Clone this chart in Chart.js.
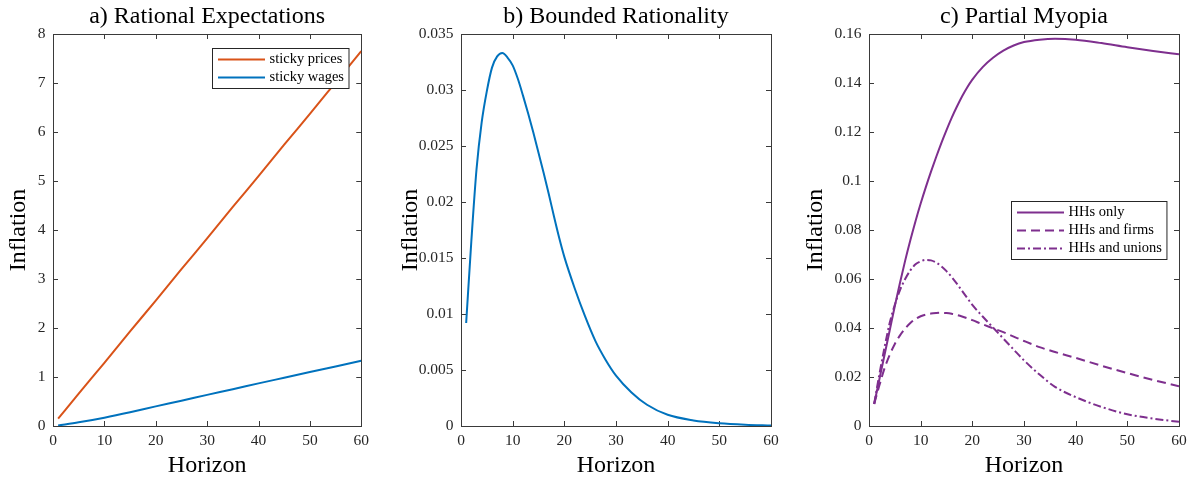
<!DOCTYPE html>
<html>
<head>
<meta charset="utf-8">
<script src="https://cdn.jsdelivr.net/npm/chart.js@4.4.1/dist/chart.umd.min.js"></script>
<style>
  html, body { margin: 0; padding: 0; background: #fff; }
  #wrap { position: relative; width: 1196px; height: 481px; overflow: hidden; }
  #wrap canvas { position: absolute; top: 0; }
</style>
</head>
<body>
<div id="wrap">
  <canvas id="chartA" width="375" height="481" style="left:0px"></canvas>
  <canvas id="chartB" width="395" height="481" style="left:392px"></canvas>
  <canvas id="chartC" width="399" height="481" style="left:797px"></canvas>
</div>
<script>
// a) Rational Expectations
const horizonA = [1, 5, 10, 15, 20, 25, 30, 35, 40, 45, 50, 55, 60];
const stickyPrices = [0.15, 0.66, 1.29, 1.93, 2.56, 3.20, 3.83, 4.47, 5.10, 5.74, 6.37, 7.01, 7.65];
const stickyWages = [0.01, 0.075, 0.17, 0.28, 0.40, 0.515, 0.635, 0.75, 0.87, 0.985, 1.10, 1.215, 1.33];

// b) Bounded Rationality and c) Partial Myopia share the horizon grid
const horizonBC = [1, 2, 3, 4, 5, 6, 7, 8, 9, 10, 11, 12, 13, 14, 15, 16, 17, 18, 19, 20,
                   22, 24, 26, 28, 30, 33, 36, 40, 45, 50, 55, 60];
const boundedRationality = [0.0092, 0.0165, 0.0229, 0.0271, 0.0299, 0.0320, 0.0330, 0.0333, 0.0329, 0.0322,
                            0.0310, 0.0295, 0.0279, 0.0262, 0.0244, 0.0226, 0.0207, 0.0187, 0.0168, 0.0151,
                            0.0123, 0.0098, 0.0076, 0.0059, 0.0045, 0.0030, 0.0019, 0.0010, 0.0005, 0.00025,
                            0.00012, 0.00005];
const hhsOnly = [0.009, 0.019, 0.029, 0.039, 0.049, 0.0585, 0.0675, 0.0758, 0.0836, 0.0908,
                 0.0975, 0.1038, 0.1098, 0.1155, 0.1208, 0.1258, 0.1303, 0.1345, 0.1382, 0.1414,
                 0.1465, 0.1503, 0.1532, 0.1553, 0.1567, 0.1577, 0.1581, 0.1577, 0.1563, 0.1546,
                 0.1531, 0.1517];
const hhsFirms = [0.009, 0.0165, 0.0235, 0.029, 0.0335, 0.037, 0.0398, 0.042, 0.0437, 0.0448,
                  0.0455, 0.0459, 0.0461, 0.0462, 0.0461, 0.0458, 0.0453, 0.0447, 0.044, 0.0432,
                  0.0415, 0.0399, 0.0383, 0.0365, 0.0347, 0.0322, 0.0302, 0.0278, 0.0246, 0.0216,
                  0.0188, 0.0162];
const hhsUnions = [0.009, 0.021, 0.032, 0.042, 0.0495, 0.0555, 0.060, 0.0635, 0.066, 0.0672,
                   0.0678, 0.0676, 0.0667, 0.0652, 0.0632, 0.0608, 0.0581, 0.0552, 0.0523, 0.0494,
                   0.0447, 0.0402, 0.0357, 0.0312, 0.0268, 0.021, 0.016, 0.0118, 0.0078, 0.0048,
                   0.003, 0.0017];

const xTicks = [0, 10, 20, 30, 40, 50, 60];
const yTicksA = [0, 1, 2, 3, 4, 5, 6, 7, 8];
const yTicksB = [0, 0.005, 0.01, 0.015, 0.02, 0.025, 0.03, 0.035];
const yTicksC = [0, 0.02, 0.04, 0.06, 0.08, 0.1, 0.12, 0.14, 0.16];

const SERIF = "'Liberation Serif', 'Times New Roman', serif";
const AXIS_COLOR = '#3a3a3a';
const ORANGE = '#D95319', BLUE = '#0072BD', PURPLE = '#7E2F8E';

function toPoints(xs, ys) {
    return xs.map((x, i) => ({ x, y: ys[i] }));
}

// box around the axes with inward ticks on all four sides (matlab look)
const axesBox = {
    id: 'axesBox',
    beforeDatasetsDraw(chart) {
        const { ctx, chartArea: a, scales } = chart;
        const len = 5;
        ctx.save();
        ctx.strokeStyle = AXIS_COLOR;
        ctx.lineWidth = 1;
        ctx.strokeRect(Math.round(a.left) + 0.5, Math.round(a.top) + 0.5,
                       Math.round(a.right - a.left), Math.round(a.bottom - a.top));
        ctx.beginPath();
        scales.x.ticks.forEach(t => {
            const px = Math.round(scales.x.getPixelForValue(t.value)) + 0.5;
            ctx.moveTo(px, a.bottom); ctx.lineTo(px, a.bottom - len);
            ctx.moveTo(px, a.top); ctx.lineTo(px, a.top + len);
        });
        scales.y.ticks.forEach(t => {
            const py = Math.round(scales.y.getPixelForValue(t.value)) + 0.5;
            ctx.moveTo(a.left, py); ctx.lineTo(a.left + len, py);
            ctx.moveTo(a.right, py); ctx.lineTo(a.right - len, py);
        });
        ctx.stroke();
        ctx.restore();
    }
};

// legend box drawn inside the axes, top right
const insetLegend = {
    id: 'insetLegend',
    afterDraw(chart, args, opts) {
        if (!opts.display) return;
        const { ctx, chartArea: a } = chart;
        const sets = chart.data.datasets;
        ctx.save();
        ctx.font = `14.5px ${SERIF}`;
        const textW = Math.max(...sets.map(d => ctx.measureText(d.label).width));
        const padL = 5.5, sample = 47, gap = 4.5, padR = 5, rowH = 18, padV = 2;
        const w = padL + sample + gap + textW + padR;
        const h = sets.length * rowH + padV * 2;
        const x = Math.round(a.right - opts.right - w) + 0.5;
        const y = Math.round(a.top + opts.top) + 0.5;
        ctx.fillStyle = '#fff';
        ctx.fillRect(x, y, w, h);
        ctx.strokeStyle = '#262626';
        ctx.lineWidth = 1;
        ctx.strokeRect(x, y, w, h);
        sets.forEach((d, i) => {
            const cy = y + padV + rowH * (i + 0.5);
            ctx.strokeStyle = d.borderColor;
            ctx.lineWidth = d.borderWidth;
            ctx.setLineDash(d.borderDash || []);
            ctx.beginPath();
            ctx.moveTo(x + padL, cy);
            ctx.lineTo(x + padL + sample, cy);
            ctx.stroke();
            ctx.setLineDash([]);
            ctx.fillStyle = '#000';
            ctx.textBaseline = 'middle';
            ctx.fillText(d.label, x + padL + sample + gap, cy);
        });
        ctx.restore();
    }
};

Chart.register(axesBox, insetLegend);

function fmt(v) {
    return String(+v.toFixed(4));
}

function makePanel(id, title, datasets, yTicks, yWidth, padRight, legend) {
    return new Chart(document.getElementById(id), {
        type: 'line',
        data: { datasets },
        options: {
            responsive: false,
            animation: false,
            layout: { padding: { right: padRight, left: 0, top: 0, bottom: 0 } },
            elements: { point: { radius: 0 } },
            plugins: {
                legend: { display: false },
                tooltip: { enabled: false },
                title: {
                    display: true,
                    text: title,
                    fullSize: false,
                    color: '#000',
                    font: { family: SERIF, size: 24, weight: 'normal' },
                    padding: { top: 2, bottom: 3.2 }
                },
                insetLegend: legend || { display: false }
            },
            scales: {
                x: {
                    type: 'linear',
                    min: 0, max: 60,
                    afterBuildTicks: s => { s.ticks = xTicks.map(v => ({ value: v })); },
                    afterFit: s => { s.height = 55; },
                    grid: { display: false, drawTicks: false },
                    border: { display: false },
                    ticks: { color: '#262626', padding: 6, font: { family: SERIF, size: 15.5 }, callback: fmt, maxRotation: 0 },
                    title: {
                        display: true, text: 'Horizon', color: '#000',
                        font: { family: SERIF, size: 24 }, padding: { top: 0, bottom: 1 }
                    }
                },
                y: {
                    type: 'linear',
                    min: yTicks[0], max: yTicks[yTicks.length - 1],
                    afterBuildTicks: s => { s.ticks = yTicks.map(v => ({ value: v })); },
                    afterFit: s => { s.width = yWidth; },
                    grid: { display: false, drawTicks: false },
                    border: { display: false },
                    ticks: { color: '#262626', padding: 7.5, font: { family: SERIF, size: 15.5 }, callback: fmt },
                    title: {
                        display: true, text: 'Inflation', color: '#000',
                        font: { family: SERIF, size: 24 }, padding: { top: 4, bottom: 0 }
                    }
                }
            }
        }
    });
}

const lineStyle = { borderWidth: 2, fill: false, cubicInterpolationMode: 'monotone', pointRadius: 0 };

makePanel('chartA', 'a) Rational Expectations', [
    { ...lineStyle, label: 'sticky prices', data: toPoints(horizonA, stickyPrices), borderColor: ORANGE },
    { ...lineStyle, label: 'sticky wages', data: toPoints(horizonA, stickyWages), borderColor: BLUE }
], yTicksA, 53, 12, { display: true, right: 13, top: 14.3 });

makePanel('chartB', 'b) Bounded Rationality', [
    { ...lineStyle, label: 'bounded rationality', data: toPoints(horizonBC, boundedRationality), borderColor: BLUE }
], yTicksB, 69, 16, null);

makePanel('chartC', 'c) Partial Myopia', [
    { ...lineStyle, label: 'HHs only', data: toPoints(horizonBC, hhsOnly), borderColor: PURPLE },
    { ...lineStyle, label: 'HHs and firms', data: toPoints(horizonBC, hhsFirms), borderColor: PURPLE, borderDash: [9, 5] },
    { ...lineStyle, label: 'HHs and unions', data: toPoints(horizonBC, hhsUnions), borderColor: PURPLE, borderDash: [8, 3, 2, 3] }
], yTicksC, 72, 17, { display: true, right: 13, top: 167 });
</script>
</body>
</html>
